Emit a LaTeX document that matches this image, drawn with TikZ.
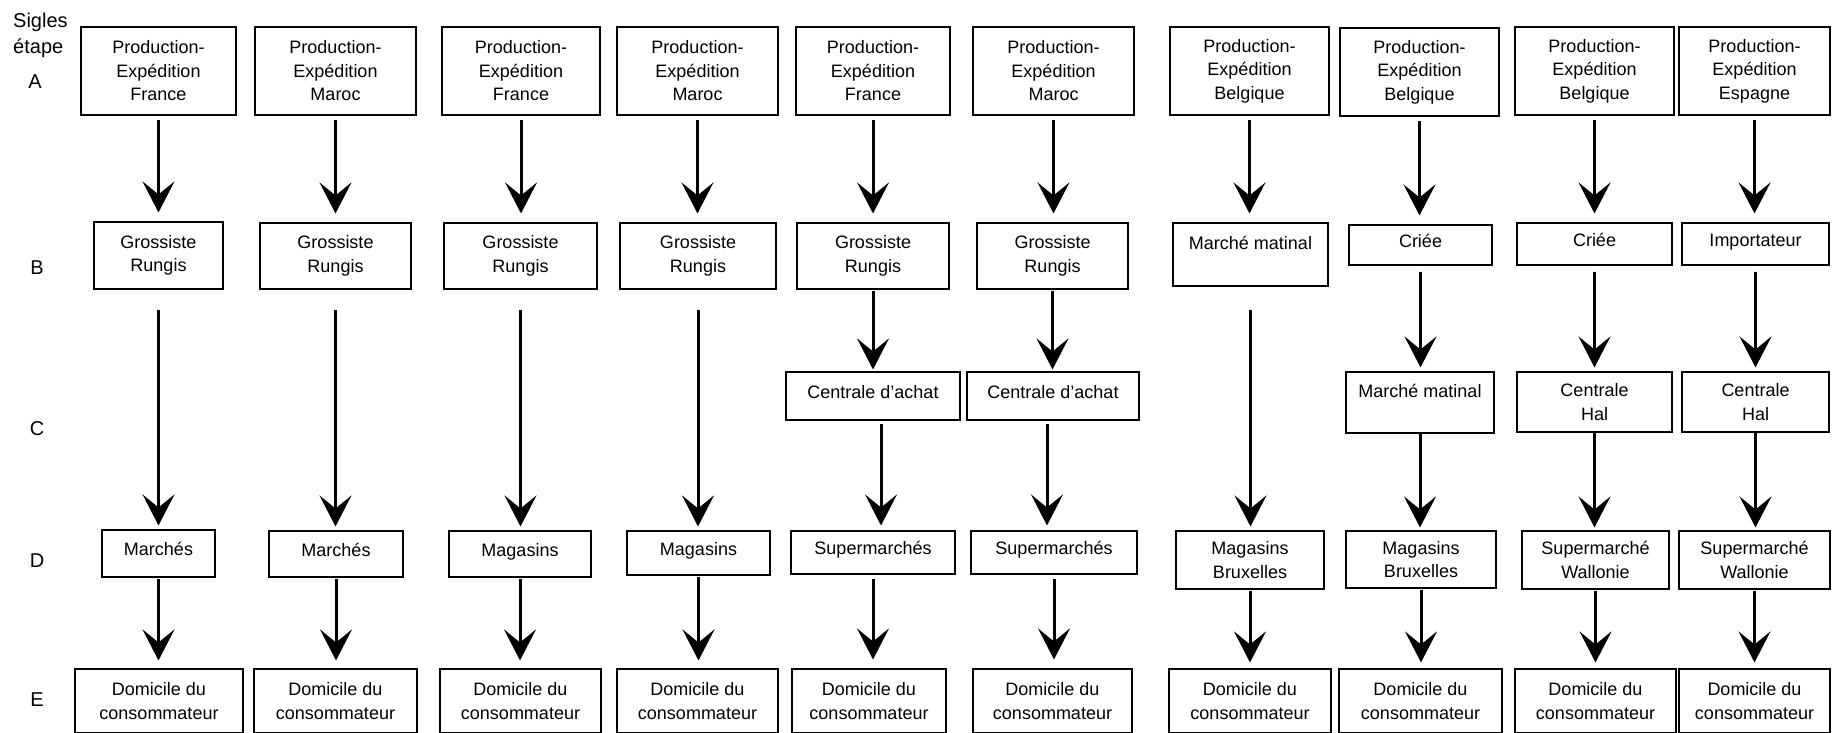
\documentclass[tikz,border=0pt]{standalone}
\usepackage{fontspec}
\setmainfont{Liberation Sans}
\usetikzlibrary{arrows.meta}
\newcommand{\bx}[7]{\node[box,#6,minimum width={#3-#2},minimum height={#5-#4}] (#1) at ({(#2+#3)/2},{(#4+#5)/2}) {#7};}
\newcommand{\conn}[4]{\draw[arr,shorten <=#3pt,shorten >=#4pt] (#1.south) -- (#1.south |- #2.north);}
\begin{document}
\begin{tikzpicture}[x=1pt,y=-1pt,
  box/.style={draw,line width=1.1pt,inner sep=0pt,align=center,font=\fontsize{18}{23.5}\selectfont},
  one/.style={text height=13pt,text depth=9pt},
  arr/.style={line width=3pt,-{Stealth[length=31pt,width=32pt,inset=13pt]}},
  lab/.style={font=\fontsize{20}{24}\selectfont,inner sep=0pt}]
\useasboundingbox (0,0) rectangle (1832,732);
\fill[white] (0,0) rectangle (1832,732);
\clip (0,0) rectangle (1832,732);

% stage labels
\node[lab,anchor=base west] (s1) at (13,27) {Sigles};
\node[lab,anchor=base west] (s2) at (13,53) {étape};
\node[lab,anchor=base] (lA) at (35,88) {A};
\node[lab,anchor=base] (lB) at (37,274) {B};
\node[lab,anchor=base] (lC) at (37,435) {C};
\node[lab,anchor=base] (lD) at (37,567) {D};
\node[lab,anchor=base] (lE) at (37,706) {E};

% column 1
\bx{a1}{81}{236}{27}{115}{}{Production-\\Expédition\\France}
\bx{b1}{94}{223}{222}{289}{}{Grossiste\\Rungis}
\bx{d1}{102}{215}{530}{577}{one}{Marchés}
\bx{e1}{75}{243}{669}{733}{}{Domicile du\\consommateur}
% column 2
\bx{a2}{255}{416}{27}{115}{}{Production-\\Expédition\\Maroc}
\bx{b2}{260}{411}{223}{289}{}{Grossiste\\Rungis}
\bx{d2}{269}{403}{531}{577}{one}{Marchés}
\bx{e2}{254}{417}{669}{733}{}{Domicile du\\consommateur}
% column 3
\bx{a3}{442}{600}{27}{115}{}{Production-\\Expédition\\France}
\bx{b3}{444}{597}{223}{289}{}{Grossiste\\Rungis}
\bx{d3}{449}{591}{531}{577}{one}{Magasins}
\bx{e3}{440}{601}{669}{733}{}{Domicile du\\consommateur}
% column 4
\bx{a4}{617}{778}{27}{115}{}{Production-\\Expédition\\Maroc}
\bx{b4}{620}{776}{223}{289}{}{Grossiste\\Rungis}
\bx{d4}{627}{770}{531}{575}{one}{Magasins}
\bx{e4}{617}{778}{669}{733}{}{Domicile du\\consommateur}
% column 5
\bx{a5}{796}{950}{27}{115}{}{Production-\\Expédition\\France}
\bx{b5}{797}{949}{223}{289}{}{Grossiste\\Rungis}
\bx{c5}{786}{960}{372}{420}{one}{Centrale d’achat}
\bx{d5}{791}{955}{531}{574}{one}{Supermarchés}
\bx{e5}{792}{946}{669}{733}{}{Domicile du\\consommateur}
% column 6
\bx{a6}{973}{1134}{27}{115}{}{Production-\\Expédition\\Maroc}
\bx{b6}{977}{1128}{223}{289}{}{Grossiste\\Rungis}
\bx{c6}{967}{1139}{372}{420}{one}{Centrale d’achat}
\bx{d6}{971}{1137}{531}{574}{one}{Supermarchés}
\bx{e6}{973}{1132}{669}{733}{}{Domicile du\\consommateur}
% column 7
\bx{a7}{1170}{1329}{27}{115}{}{Production-\\Expédition\\Belgique}
\bx{b7}{1173}{1328}{223}{286}{}{Marché matinal\\~}
\bx{d7}{1176}{1324}{531}{589}{}{Magasins\\Bruxelles}
\bx{e7}{1169}{1331}{669}{733}{}{Domicile du\\consommateur}
% column 8
\bx{a8}{1340}{1499}{28}{116}{}{Production-\\Expédition\\Belgique}
\bx{b8}{1349}{1492}{225}{265}{one}{Criée}
\bx{c8}{1346}{1494}{372}{433}{}{Marché matinal\\~}
\bx{d8}{1346}{1496}{531}{588}{}{Magasins\\Bruxelles}
\bx{e8}{1339}{1502}{669}{733}{}{Domicile du\\consommateur}
% column 9
\bx{a9}{1515}{1674}{27}{115}{}{Production-\\Expédition\\Belgique}
\bx{b9}{1517}{1672}{223}{265}{one}{Criée}
\bx{c9}{1517}{1672}{372}{432}{}{Centrale\\Hal}
\bx{d9}{1522}{1669}{531}{589}{}{Supermarché\\Wallonie}
\bx{e9}{1515}{1676}{669}{733}{}{Domicile du\\consommateur}
% column 10
\bx{a10}{1679}{1830}{27}{115}{}{Production-\\Expédition\\Espagne}
\bx{b10}{1682}{1829}{223}{265}{one}{Importateur}
\bx{c10}{1682}{1829}{372}{432}{}{Centrale\\Hal}
\bx{d10}{1679}{1830}{531}{589}{}{Supermarché\\Wallonie}
\bx{e10}{1679}{1830}{669}{733}{}{Domicile du\\consommateur}

% connectors A -> B
\foreach \i in {1,...,10}{\conn{a\i}{b\i}{4}{9}}
% B -> D (long)
\foreach \i in {1,2,3,4}{\conn{b\i}{d\i}{20}{4}}
\conn{b7}{d7}{23}{4}
% B -> C
\conn{b5}{c5}{1}{2}
\conn{b6}{c6}{1}{2}
\foreach \i in {8,9,10}{\conn{b\i}{c\i}{6}{4}}
% C -> D
\draw[arr,shorten <=3pt,shorten >=5pt] ([xshift=8pt]c5.south) -- ([xshift=8pt]c5.south |- d5.north);
\draw[arr,shorten <=3pt,shorten >=5pt] ([xshift=-6pt]c6.south) -- ([xshift=-6pt]c6.south |- d6.north);
\foreach \i in {8,9,10}{\conn{c\i}{d\i}{0.5}{3}}
% D -> E
\foreach \i in {1,2,3,4}{\conn{d\i}{e\i}{1}{8}}
\conn{d5}{e5}{4}{9}
\conn{d6}{e6}{4}{9}
\foreach \i in {7,8,9,10}{\conn{d\i}{e\i}{1}{6}}
\end{tikzpicture}
\end{document}
